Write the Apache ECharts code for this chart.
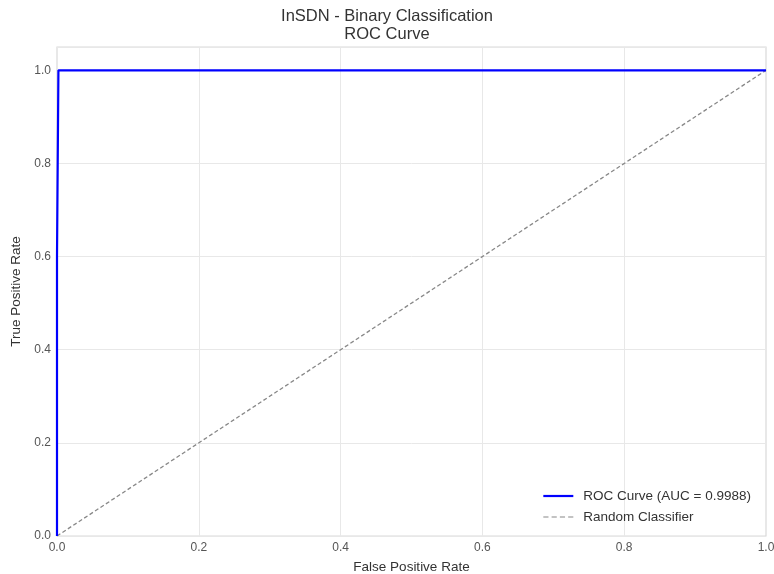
<!DOCTYPE html>
<html>
<head>
<meta charset="utf-8">
<script src="https://cdn.jsdelivr.net/npm/echarts@6/dist/echarts.min.js"></script>
<style>html,body{margin:0;padding:0;background:#fff}#c{width:774px;height:574px}</style>
</head>
<body>
<div id="c"></div>
<script>
const titleLines = ["InSDN - Binary Classification", "ROC Curve"];
const rocLabel = "ROC Curve (AUC = 0.9988)";
const randLabel = "Random Classifier";
const rocFPR = [0.0, 0.0, 0.002, 0.01, 0.5, 1.0];
const rocTPR = [0.0, 0.6, 1.0, 1.0, 1.0, 1.0];
const randFPR = [0.0, 1.0];
const randTPR = [0.0, 1.0];
const xTicks = [0.0, 0.2, 0.4, 0.6, 0.8, 1.0];
const yTicks = [0.0, 0.2, 0.4, 0.6, 0.8, 1.0];

const font = "'Liberation Sans', Arial, sans-serif";
const chart = echarts.init(document.getElementById('c'));
const fmt = v => {
  const ok = xTicks.some(t => Math.abs(t - v) < 1e-9);
  return ok ? v.toFixed(1) : '';
};
chart.setOption({
  animation: false,
  backgroundColor: '#fff',
  title: {
    text: titleLines.join('\n'),
    left: 'center', top: 3,
    textStyle: {fontFamily: font, fontSize: 16.5, fontWeight: 'normal', color: '#333', lineHeight: 17.5}
  },
  grid: {left: 57, right: 8, top: 47, bottom: 38, outerBoundsMode: 'none', containLabel: false, show: true, borderColor: '#d9d9d9', borderWidth: 1.2, backgroundColor: '#fff'},
  legend: {
    right: 18, bottom: 45, orient: 'vertical', itemGap: 7,
    itemWidth: 30, itemHeight: 16,
    textStyle: {fontFamily: font, fontSize: 13.5, color: '#333', padding: [0, 0, 0, 5]},
    data: [
      {name: rocLabel, icon: 'path://M0,7 L30,7 L30,9.2 L0,9.2 Z', itemStyle: {color: '#0000ff'}},
      {name: randLabel, icon: 'path://M0,7.5 L5,7.5 L5,8.7 L0,8.7 Z M8,7.5 L13,7.5 L13,8.7 L8,8.7 Z M16,7.5 L21,7.5 L21,8.7 L16,8.7 Z M24,7.5 L29,7.5 L29,8.7 L24,8.7 Z', itemStyle: {color: '#888'}}
    ]
  },
  xAxis: {
    type: 'value', min: 0, max: 1, interval: 0.2,
    name: 'False Positive Rate', nameLocation: 'middle', nameGap: 24,
    nameTextStyle: {fontFamily: font, fontSize: 13.5, color: '#333'},
    axisLine: {show: false}, axisTick: {show: false},
    axisLabel: {fontFamily: font, fontSize: 12, color: '#555', margin: 6, formatter: fmt},
    splitLine: {lineStyle: {color: '#e8e8e8', width: 1}}
  },
  yAxis: {
    type: 'value', min: 0, max: 1.05, interval: 0.2,
    name: 'True Positive Rate', nameLocation: 'middle', nameGap: 27,
    nameTextStyle: {fontFamily: font, fontSize: 13.5, color: '#333'},
    axisLine: {show: false}, axisTick: {show: false},
    axisLabel: {fontFamily: font, fontSize: 12, color: '#555', margin: 6, showMaxLabel: false, formatter: fmt},
    splitLine: {lineStyle: {color: '#e8e8e8', width: 1}}
  },
  series: [
    {
      name: randLabel, type: 'line', symbol: 'none',
      data: randFPR.map((x, i) => [x, randTPR[i]]),
      lineStyle: {color: '#888', width: 1.3, type: [4, 2.5]},
      itemStyle: {color: '#888'}
    },
    {
      name: rocLabel, type: 'line', symbol: 'none',
      data: rocFPR.map((x, i) => [x, rocTPR[i]]),
      lineStyle: {color: '#0000ff', width: 2.2},
      itemStyle: {color: '#0000ff'}, z: 3
    }
  ]
});
</script>
</body>
</html>
